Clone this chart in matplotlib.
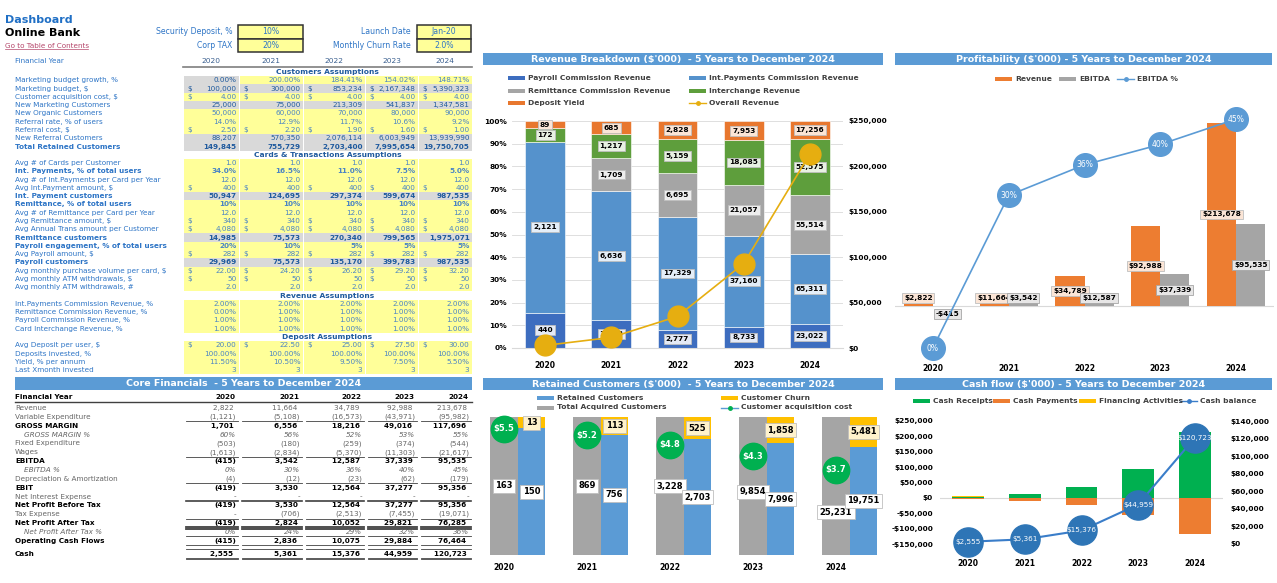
import matplotlib
matplotlib.use("Agg")
import matplotlib.pyplot as plt
from matplotlib.patches import Rectangle
import numpy as np

W, H = 1277, 583
years = ["2020", "2021", "2022", "2023", "2024"]

# revenue breakdown ($'000)
payroll_rev = [440, 1418, 2777, 8733, 23022]
intpay_rev = [2121, 6636, 17329, 37160, 65311]
remit_rev = [0, 1709, 6695, 21057, 55514]
interchange_rev = [172, 1217, 5159, 18085, 52575]
deposit_yield = [89, 685, 2828, 7953, 17256]
overall_rev = [2822, 11664, 34789, 92988, 213678]

# profitability
ebitda = [-415, 3542, 12587, 37339, 95535]
ebitda_pct = [0, 30, 36, 40, 45]

# retained customers ('000)
total_acquired = [163, 869, 3228, 9854, 25231]
retained = [150, 756, 2703, 7996, 19751]
churn = [13, 113, 525, 1858, 5481]
cac = [5.5, 5.2, 4.8, 4.3, 3.7]

# cash flow
cash_receipts = [2822, 11664, 34789, 92988, 213678]
cash_payments = [-3237, -8122, -22202, -55649, -118143]
financing = [2970, 0, 0, 0, 0]
cash_balance = [2555, 5361, 15376, 44959, 120723]

# inputs
inputs_left = [("Security Deposit, %", "10%"), ("Corp TAX", "20%")]
inputs_right = [("Launch Date", "Jan-20"), ("Monthly Churn Rate", "2.0%")]

# assumptions
customers_rows = [
    ("Marketing budget growth, %", [0.0, 200.0, 184.41, 154.02, 148.71], "pct2"),
    ("Marketing budget, $", [100000, 300000, 853234, 2167348, 5390323], "usd0"),
    ("Customer acquisition cost, $", [4.0, 4.0, 4.0, 4.0, 4.0], "usd2"),
    ("New Marketing Customers", [25000, 75000, 213309, 541837, 1347581], "int"),
    ("New Organic Customers", [50000, 60000, 70000, 80000, 90000], "int"),
    ("Referral rate, % of users", [14.0, 12.9, 11.7, 10.6, 9.2], "pct1"),
    ("Referral cost, $", [2.50, 2.20, 1.90, 1.60, 1.00], "usd2"),
    ("New Referral Customers", [88207, 570350, 2076114, 6003949, 13939990], "int"),
    ("Total Retained Customers", [149845, 755729, 2703400, 7995654, 19750705], "int"),
]
cards_rows = [
    ("Avg # of Cards per Customer", [1.0, 1.0, 1.0, 1.0, 1.0], "dec1"),
    ("Int. Payments, % of total users", [34.0, 16.5, 11.0, 7.5, 5.0], "pct1"),
    ("Avg # of Int.Payments per Card per Year", [12.0, 12.0, 12.0, 12.0, 12.0], "dec1"),
    ("Avg Int.Payment amount, $", [400, 400, 400, 400, 400], "usd0"),
    ("Int. Payment customers", [50947, 124695, 297374, 599674, 987535], "int"),
    ("Remittance, % of total users", [10, 10, 10, 10, 10], "pct0"),
    ("Avg # of Remittance per Card per Year", [12.0, 12.0, 12.0, 12.0, 12.0], "dec1"),
    ("Avg Remittance amount, $", [340, 340, 340, 340, 340], "usd0"),
    ("Avg Annual Trans amount per Customer", [4080, 4080, 4080, 4080, 4080], "usd0"),
    ("Remittance customers", [14985, 75573, 270340, 799565, 1975071], "int"),
    ("Payroll engagement, % of total users", [20, 10, 5, 5, 5], "pct0"),
    ("Avg Payroll amount, $", [282, 282, 282, 282, 282], "usd0"),
    ("Payroll customers", [29969, 75573, 135170, 399783, 987535], "int"),
    ("Avg monthly purchase volume per card, $", [22.00, 24.20, 26.20, 29.20, 32.20], "usd2"),
    ("Avg monthly ATM withdrawals, $", [50, 50, 50, 50, 50], "usd0"),
    ("Avg monthly ATM withdrawals, #", [2.0, 2.0, 2.0, 2.0, 2.0], "dec1"),
]
revenue_rows = [
    ("Int.Payments Commission Revenue, %", [2.0, 2.0, 2.0, 2.0, 2.0], "pct2"),
    ("Remittance Commission Revenue, %", [0.0, 1.0, 1.0, 1.0, 1.0], "pct2"),
    ("Payroll Commission Revenue, %", [1.0, 1.0, 1.0, 1.0, 1.0], "pct2"),
    ("Card Interchange Revenue, %", [1.0, 1.0, 1.0, 1.0, 1.0], "pct2"),
]
deposit_rows = [
    ("Avg Deposit per user, $", [20.00, 22.50, 25.00, 27.50, 30.00], "usd2"),
    ("Deposits invested, %", [100.0, 100.0, 100.0, 100.0, 100.0], "pct2"),
    ("Yield, % per annum", [11.5, 10.5, 9.5, 7.5, 5.5], "pct2"),
    ("Last Xmonth invested", [3, 3, 3, 3, 3], "int"),
]
gray_rows = {"Marketing budget, $", "New Marketing Customers", "New Referral Customers",
             "Total Retained Customers", "Int. Payment customers", "Remittance customers",
             "Payroll customers"}
gray_first = {"Marketing budget growth, %"}
bold_rows = {"Total Retained Customers", "Int. Payments, % of total users", "Int. Payment customers",
             "Remittance, % of total users", "Remittance customers",
             "Payroll engagement, % of total users", "Payroll customers"}

# core financials
core_rows = [
    ("Revenue", [2822, 11664, 34789, 92988, 213678]),
    ("Variable Expenditure", [-1121, -5108, -16573, -43971, -95982]),
    ("GROSS MARGIN", [1701, 6556, 18216, 49016, 117696]),
    ("GROSS MARGIN %", [60, 56, 52, 53, 55]),
    ("Fixed Expenditure", [-503, -180, -259, -374, -544]),
    ("Wages", [-1613, -2834, -5370, -11303, -21617]),
    ("EBITDA", [-415, 3542, 12587, 37339, 95535]),
    ("EBITDA %", [0, 30, 36, 40, 45]),
    ("Depreciation & Amortization", [-4, -12, -23, -62, -179]),
    ("EBIT", [-419, 3530, 12564, 37277, 95356]),
    ("Net Interest Expense", [0, 0, 0, 0, 0]),
    ("Net Profit Before Tax", [-419, 3530, 12564, 37277, 95356]),
    ("Tax Expense", [0, -706, -2513, -7455, -19071]),
    ("Net Profit After Tax", [-419, 2824, 10052, 29821, 76285]),
    ("Net Profit After Tax %", [0, 24, 29, 32, 36]),
    ("Operating Cash Flows", [-415, 2836, 10075, 29884, 76464]),
    ("Cash", [2555, 5361, 15376, 44959, 120723]),
]
core_bold = {"GROSS MARGIN", "EBITDA", "EBIT", "Net Profit Before Tax", "Net Profit After Tax",
             "Operating Cash Flows", "Cash"}
core_pct = {"GROSS MARGIN %", "EBITDA %", "Net Profit After Tax %"}

HDR = "#5B9BD5"
LBLUE = "#2E75C6"
DKBLUE = "#1F5A9E"
YEL = "#FFFF99"
GRAYF = "#D9D9D9"
FS = 5.2

fig = plt.figure(figsize=(W / 100, H / 100), dpi=100)
cv = fig.add_axes([0, 0, 1, 1])
cv.set_xlim(0, W)
cv.set_ylim(H, 0)
cv.axis("off")


def px_axes(x0, y0, x1, y1):
    a = fig.add_axes([x0 / W, 1 - y1 / H, (x1 - x0) / W, (y1 - y0) / H])
    a.patch.set_visible(False)
    return a


def header(x0, x1, y0, y1, text):
    cv.add_patch(Rectangle((x0, y0), x1 - x0, y1 - y0, color=HDR, lw=0))
    cv.text((x0 + x1) / 2, (y0 + y1) / 2 + 0.5, text, color="white", fontsize=6.8,
            fontweight="bold", ha="center", va="center")


def leg_patch(x, y, c, label):
    cv.add_patch(Rectangle((x, y - 2), 17, 4, color=c, lw=0))
    cv.text(x + 20, y, label, fontsize=5.4, fontweight="bold", color="#404040", va="center")


def leg_line(x, y, c, mc, label):
    cv.plot([x, x + 17], [y, y], color=c, lw=1)
    cv.plot([x + 8.5], [y], marker="o", ms=2.5, color=mc)
    cv.text(x + 20, y, label, fontsize=5.4, fontweight="bold", color="#404040", va="center")


def usd(v, pos=None):
    return f"-${abs(v):,.0f}" if v < 0 else f"${v:,.0f}"


# ---------- top left block ----------
cv.text(5, 20, "Dashboard", fontsize=8, fontweight="bold", color="#1F6FC5", va="center")
cv.text(5, 33, "Online Bank", fontsize=8, fontweight="bold", color="black", va="center")
cv.text(5, 45.5, "Go to Table of Contents", fontsize=5.2, color="#B5476B", va="center")
cv.plot([5, 88], [49, 49], color="#B5476B", lw=0.5)

for k, (lab, val) in enumerate(inputs_left):
    y0 = 25 + k * 13.5
    cv.text(232, y0 + 7, lab, fontsize=5.6, color=LBLUE, ha="right", va="center")
    cv.add_patch(Rectangle((238, y0), 65, 13.5, fc=YEL, ec="#333333", lw=1.1))
    cv.text(270.5, y0 + 7, val, fontsize=5.6, color=LBLUE, ha="center", va="center")
for k, (lab, val) in enumerate(inputs_right):
    y0 = 25 + k * 13.5
    cv.text(411, y0 + 7, lab, fontsize=5.6, color=LBLUE, ha="right", va="center")
    cv.add_patch(Rectangle((417, y0), 54, 13.5, fc=YEL, ec="#333333", lw=1.1))
    cv.text(444, y0 + 7, val, fontsize=5.6, color=LBLUE, ha="center", va="center")

cols = [183, 239, 303, 365, 418, 472]
cv.text(15, 61, "Financial Year", fontsize=FS, color=LBLUE, va="center")
for j, yr in enumerate(years):
    cv.text((cols[j] + cols[j + 1]) / 2, 61, yr, fontsize=5.4, color="#3A5F8F", ha="center", va="center")
cv.plot([183, 472], [67, 67], color="#7F7F7F", lw=1.2)


def fmt_cell(v, fmt):
    if fmt == "pct2":
        return False, f"{v:.2f}%"
    if fmt == "pct1":
        return False, f"{v:.1f}%"
    if fmt == "pct0":
        return False, f"{v:.0f}%"
    if fmt == "int":
        return False, f"{v:,.0f}"
    if fmt == "dec1":
        return False, f"{v:.1f}"
    if fmt == "usd0":
        return True, f"{v:,.0f}"
    return True, f"{v:,.2f}"


STEP = 8.28


def draw_section(y, title, rows):
    cv.text((cols[0] + cols[-1]) / 2, y, title, fontsize=5.4, fontweight="bold", color=DKBLUE,
            ha="center", va="center")
    y += STEP
    for label, vals, fmt in rows:
        bold = "bold" if label in bold_rows else "normal"
        cv.text(15, y, label, fontsize=FS, color=LBLUE, va="center", fontweight=bold)
        for j, v in enumerate(vals):
            x0, x1 = cols[j], cols[j + 1]
            gray = label in gray_rows or (label in gray_first and j == 0)
            cv.add_patch(Rectangle((x0 + 0.5, y - STEP / 2), x1 - x0 - 1, STEP,
                                   fc=GRAYF if gray else YEL, ec="none"))
            tc = DKBLUE if gray else "#4A84C4"
            dollar, txt = fmt_cell(v, fmt)
            if dollar:
                cv.text(x0 + 4, y, "$", fontsize=FS, color=tc, va="center")
            cv.text(x1 - 2.5, y, txt, fontsize=FS, color=tc, ha="right", va="center", fontweight=bold)
        y += STEP
    return y


y = 72
y = draw_section(y, "Customers Assumptions", customers_rows)
y = draw_section(y, "Cards & Transactions Assumptions", cards_rows)
y = draw_section(y, "Revenue Assumptions", revenue_rows)
y = draw_section(y, "Deposit Assumptions", deposit_rows)

# ---------- core financials ----------
header(15, 472, 377, 390, "Core Financials  - 5 Years to December 2024")
cv.text(15, 397, "Financial Year", fontsize=FS, fontweight="bold", color="black", va="center")
for j, yr in enumerate(years):
    cv.text(cols[j + 1] - 4, 397, yr, fontsize=FS, fontweight="bold", color="black", ha="right", va="center")
cv.plot([15, 472], [401.5, 401.5], color="#404040", lw=1.0)


def acct(v, pct):
    if pct:
        return f"{v}%"
    if v == 0:
        return "-"
    if v < 0:
        return f"({-v:,})"
    return f"{v:,} "


core_y = {}
for i, (label, vals) in enumerate(core_rows):
    yy = 408 + i * 8.85 + (4 if label == "Cash" else 0)
    core_y[label] = yy
    bold = label in core_bold
    pct = label in core_pct
    col = "black" if bold else "#666666"
    kw = dict(fontsize=FS, color=col, va="center", fontweight="bold" if bold else "normal",
              fontstyle="italic" if pct else "normal")
    cv.text(24 if pct else 15, yy, label, **kw)
    for j, v in enumerate(vals):
        cv.text(cols[j + 1] - 3, yy, acct(v, pct), ha="right", **kw)


def core_line(yy, lw=0.6, double=False):
    for j in range(5):
        cv.plot([cols[j] + 3, cols[j + 1] - 1], [yy, yy], color="#404040", lw=lw)
        if double:
            cv.plot([cols[j] + 3, cols[j + 1] - 1], [yy + 1.6, yy + 1.6], color="#404040", lw=lw)


core_line(core_y["Variable Expenditure"] + 4.3)
core_line(core_y["Wages"] + 4.3)
core_line(core_y["Depreciation & Amortization"] + 4.3)
core_line(core_y["Net Interest Expense"] + 4.3, lw=1.2)
core_line(core_y["Tax Expense"] + 4.3)
core_line(core_y["Net Profit After Tax"] + 4.0, lw=1.3, double=True)
core_line(core_y["Net Profit After Tax %"] + 4.3)
core_line(core_y["Operating Cash Flows"] + 4.3)
core_line(core_y["Cash"] - 4.5)
core_line(core_y["Cash"] + 4.0, double=True)

x = np.arange(5)
lab_font = dict(fontsize=5.3, fontweight="bold", color="black", ha="center", va="center")

# ---------- revenue breakdown ----------
header(483, 883, 53, 65, "Revenue Breakdown ($'000)  - 5 Years to December 2024")
leg_patch(508, 78, "#3D6DBF", "Payroll Commission Revenue")
leg_patch(508, 91, "#A5A5A5", "Remittance Commission Revenue")
leg_patch(508, 103, "#E8772E", "Deposit Yield")
leg_patch(689, 78, "#5592CC", "Int.Payments Commission Revenue")
leg_patch(689, 91, "#5E9E3C", "Interchange Revenue")
leg_line(689, 103, "#E6AE10", "#E6AE10", "Overall Revenue")

ax = px_axes(512, 121, 843, 348)
stack = [payroll_rev, intpay_rev, remit_rev, interchange_rev, deposit_yield]
colors = ["#3D6DBF", "#5592CC", "#A5A5A5", "#5E9E3C", "#E8772E"]
label_fc = ["#E4EAF6", "#E4EEF8", "#EDEDED", "#E8F1E2", "#FBE5D6"]
tot = np.sum(np.array(stack, float), axis=0)
bottom = np.zeros(5)
for vals, c, fc in zip(stack, colors, label_fc):
    frac = np.array(vals) / tot
    ax.bar(x, frac, 0.6, bottom=bottom, color=c, edgecolor="white", linewidth=0.4, zorder=2)
    for i in range(5):
        if vals[i] > 0:
            ax.text(x[i], bottom[i] + frac[i] / 2, f"{vals[i]:,}", zorder=6,
                    bbox=dict(boxstyle="square,pad=0.25", fc=fc, ec="#BFBFBF", lw=0.6), **lab_font)
    bottom += frac
ax.set_xlim(-0.5, 4.5)
ax.set_ylim(0, 1)
ax.set_yticks(np.arange(0, 1.01, 0.1))
ax.set_yticklabels([f"{v:.0f}%" for v in np.arange(0, 101, 10)], fontsize=5.3, fontweight="bold")
ax.yaxis.grid(True, color="#D9D9D9", lw=0.6)
ax.set_axisbelow(True)
ax.set_xticks(x)
ax.set_xticklabels(years, fontsize=5.5, fontweight="bold")
ax.tick_params(axis="x", length=0, pad=9.5)
ax.tick_params(axis="y", length=0, pad=3.6)
for s in ["top", "left", "right"]:
    ax.spines[s].set_visible(False)
ax.spines["bottom"].set_color("#D9D9D9")
ax2 = ax.twinx()
ax2.plot(x, overall_rev, color="#E6AE10", lw=1.2, marker="o", ms=15, mfc="#E6AE10", mec="#E6AE10",
         zorder=5, clip_on=False)
ax2.set_ylim(0, 250000)
ax2.set_yticks(np.arange(0, 250001, 50000))
ax2.yaxis.set_major_formatter(usd)
ax2.tick_params(axis="y", length=0, pad=3.6, labelsize=5.3)
for t in ax2.get_yticklabels():
    t.set_fontweight("bold")
for s in ax2.spines.values():
    s.set_visible(False)

# ---------- profitability ----------
header(895, 1272, 53, 65, "Profitability ($'000) - 5 Years to December 2024")
leg_patch(995, 79, "#ED7D31", "Revenue")
leg_patch(1059, 79, "#A5A5A5", "EBITDA")
leg_line(1117, 79, "#5B9BD5", "#5B9BD5", "EBITDA %")

ax = px_axes(895, 110, 1274, 350)
w = 0.385
ax.bar(x - w / 2, overall_rev, w, color="#ED7D31", zorder=2)
ax.bar(x + w / 2, ebitda, w, color="#A5A5A5", zorder=2)
ax.axhline(0, color="#D9D9D9", lw=0.8, zorder=1)
for i in range(5):
    ry = max(overall_rev[i] / 2, 9300)
    ax.text(x[i] - w / 2, ry, usd(overall_rev[i]), zorder=6,
            bbox=dict(boxstyle="square,pad=0.25", fc="#FBE5D6", ec="#BFBFBF", lw=0.6), **lab_font)
    ey = np.sign(ebitda[i]) * max(abs(ebitda[i]) / 2, 9300)
    ax.text(x[i] + w / 2, ey, usd(ebitda[i]), zorder=6,
            bbox=dict(boxstyle="square,pad=0.25", fc="#E7E6E6", ec="#A6A6A6", lw=0.6), **lab_font)
ax.set_xlim(-0.5, 4.5)
ax.set_ylim(-51375, 228848)
ax.set_yticks([])
ax.set_xticks(x)
ax.set_xticklabels(years, fontsize=5.5, fontweight="bold")
ax.tick_params(axis="x", length=0, pad=10.4)
for s in ax.spines.values():
    s.set_visible(False)
ax2 = ax.twinx()
pct = np.array(ebitda_pct) / 100
ax2.plot(x, pct, color="#5B9BD5", lw=1.2, marker="o", ms=17, mfc="#5B9BD5", mec="#5B9BD5",
         zorder=5, clip_on=False)
for i in range(5):
    ax2.text(x[i], pct[i], f"{ebitda_pct[i]}%", fontsize=5.5, color="white", ha="center", va="center", zorder=7)
ax2.set_ylim(-0.0039, 0.4677)
ax2.set_yticks([])
for s in ax2.spines.values():
    s.set_visible(False)

# ---------- retained customers ----------
header(483, 883, 378, 390, "Retained Customers ($'000)  - 5 Years to December 2024")
leg_patch(537, 398, "#5B9BD5", "Retained Customers")
leg_patch(537, 407.5, "#A5A5A5", "Total Acquired Customers")
leg_patch(721, 398, "#FFC000", "Customer Churn")
leg_line(721, 407.5, "#5B9BD5", "#00B050", "Customer acquisition cost")

ax = px_axes(483, 417, 878, 555)
xmin = -(504 - 483) / 83
ax.set_xlim(xmin, xmin + (878 - 483) / 83)
ax.set_ylim(0, 1)
bw = 0.33
ta = np.array(total_acquired, float)
gfrac = ta / ta
bfrac = np.array(retained) / ta
cfrac = np.array(churn) / ta
ax.bar(x, gfrac, bw, color="#A5A5A5", zorder=2)
ax.bar(x + bw, bfrac, bw, color="#5B9BD5", zorder=2)
ax.bar(x + bw, cfrac, bw, bottom=bfrac, color="#FFC000", zorder=2)
gray_lab_y = [0.5, 0.5, 0.5, 0.46, 0.31]
box = dict(boxstyle="square,pad=0.3", fc="white", ec="#BFBFBF", lw=0.6)
for i in range(5):
    ax.text(x[i], gray_lab_y[i], f"{total_acquired[i]:,}", zorder=6, bbox=box,
            **dict(lab_font, fontsize=6))
    ax.text(x[i] + bw, bfrac[i] / 2, f"{retained[i]:,}", zorder=6, bbox=box, **dict(lab_font, fontsize=6))
    ax.text(x[i] + bw, bfrac[i] + cfrac[i] / 2, f"{churn[i]:,}", zorder=6,
            bbox=dict(boxstyle="square,pad=0.3", fc="#FFF2CC", ec="#BFBFBF", lw=0.6),
            **dict(lab_font, fontsize=6))
ax.set_xticks(x)
ax.set_xticklabels(years, fontsize=5.5, fontweight="bold")
ax.tick_params(axis="x", length=0, pad=5.4)
ax.set_yticks([])
for s in ax.spines.values():
    s.set_visible(False)
ax2 = ax.twinx()
ax2.plot(x, cac, ls="none", marker="o", ms=19, mfc="#00B050", mec="#00B050", zorder=5, clip_on=False)
for i in range(5):
    ax2.text(x[i], cac[i], f"${cac[i]:.1f}", fontsize=6, fontweight="bold", color="white",
             ha="center", va="center", zorder=7)
ax2.set_ylim(0, 6)
ax2.set_yticks([])
for s in ax2.spines.values():
    s.set_visible(False)

# ---------- cash flow ----------
header(895, 1272, 378, 390, "Cash flow ($'000) - 5 Years to December 2024")
leg_patch(913, 401, "#00B050", "Cash Receipts")
leg_patch(993, 401, "#ED7D31", "Cash Payments")
leg_patch(1079, 401, "#FFC000", "Financing Activities")
leg_line(1180, 401, "#3A7DC9", "#3A7DC9", "Cash balance")

ax = px_axes(940, 412, 1223, 552)
ax.bar(x, cash_receipts, 0.56, color="#00B050", zorder=2)
ax.bar(x, cash_payments, 0.56, color="#ED7D31", zorder=2)
ax.bar(x, financing, 0.56, bottom=cash_receipts, color="#FFC000", zorder=2)
ax.axhline(0, color="#D9D9D9", lw=0.8, zorder=1)
ax.set_xlim(-0.5, 4.5)
ax.set_ylim(-175325, 279220)
ax.set_yticks(np.arange(-150000, 250001, 50000))
ax.yaxis.set_major_formatter(usd)
ax.set_xticks(x)
ax.set_xticklabels(years, fontsize=5.5, fontweight="bold")
ax.tick_params(axis="x", length=0, pad=5.4)
ax.tick_params(axis="y", length=0, pad=5, labelsize=5.3)
for t in ax.get_yticklabels():
    t.set_fontweight("bold")
for s in ax.spines.values():
    s.set_visible(False)
ax2 = ax.twinx()
ax2.plot(x, cash_balance, color="#3A7DC9", lw=1.5, marker="o", ms=21, mfc="#2E75B6", mec="#2E75B6",
         zorder=5, clip_on=False)
for i in range(5):
    ax2.text(x[i], cash_balance[i], usd(cash_balance[i]), fontsize=5.2, color="white",
             ha="center", va="center", zorder=7)
ax2.set_ylim(-9106, 150244)
ax2.set_yticks(np.arange(0, 140001, 20000))
ax2.yaxis.set_major_formatter(usd)
ax2.tick_params(axis="y", length=0, pad=5, labelsize=5.3)
for t in ax2.get_yticklabels():
    t.set_fontweight("bold")
for s in ax2.spines.values():
    s.set_visible(False)

fig.savefig("out.png", dpi=100)
